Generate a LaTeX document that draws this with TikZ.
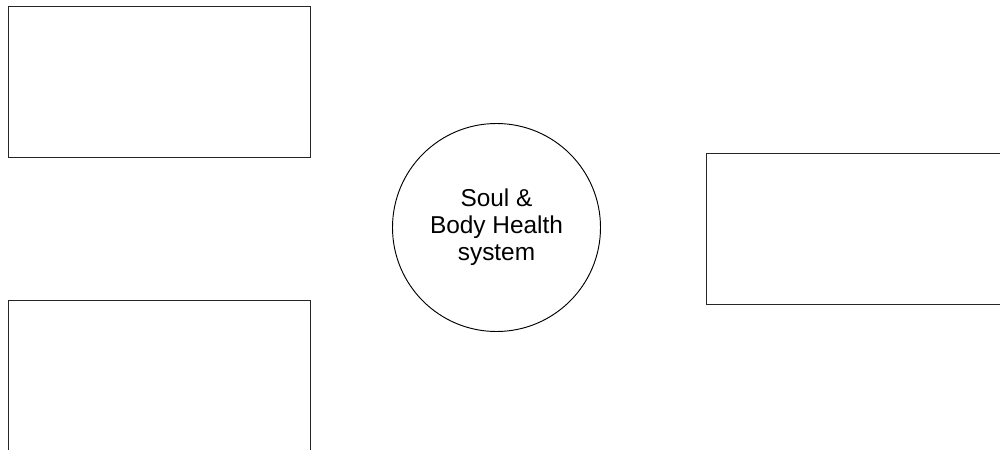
\documentclass[tikz,border=0pt]{standalone}
\usepackage{fontspec}
\setmainfont{Liberation Sans}
\begin{document}
\begin{tikzpicture}[x=0.75pt,y=-0.75pt,
  box/.style={draw=black!85,line width=0.8pt,rectangle,inner sep=0pt,anchor=north west},
  hub/.style={draw=black,line width=0.7pt,circle,inner sep=0pt,minimum size=156pt,
    align=center,font=\fontsize{18.3pt}{20.3pt}\selectfont}]
\useasboundingbox (0,0) rectangle (1000,450);
\clip (0,0) rectangle (1000,450);
\node[box,minimum width=226.9pt,minimum height=113.25pt] (tl) at (7.5,5.5) {};
\node[box,minimum width=226.5pt,minimum height=130pt] (bl) at (8,300) {};
\node[box,minimum width=230pt,minimum height=113.7pt] (rt) at (705.5,152.7) {};
\node[hub] (c) at (496.5,227.5) {Soul \&\\Body Health\\system};
\end{tikzpicture}
\end{document}
